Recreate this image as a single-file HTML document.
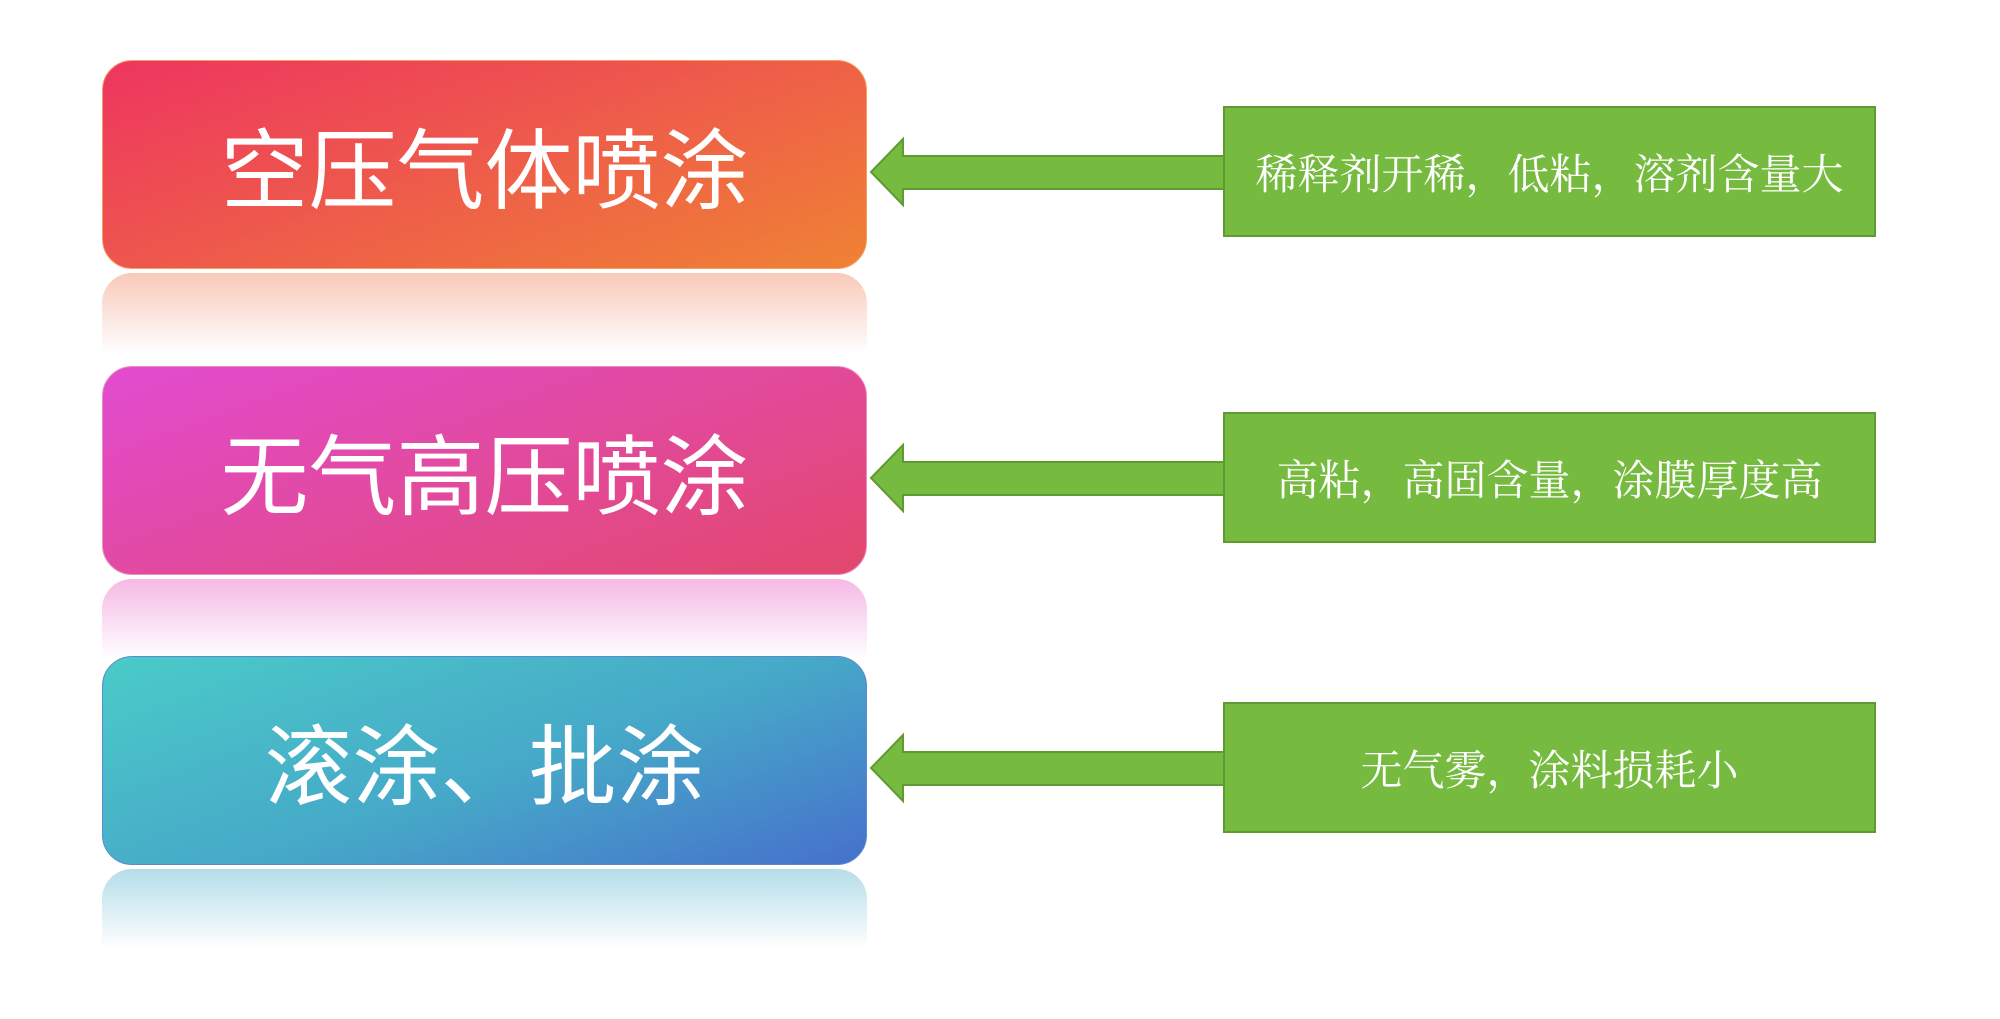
<!DOCTYPE html>
<html><head><meta charset="utf-8"><style>
html,body{margin:0;padding:0;background:#fff;}
body{width:2000px;height:1019px;position:relative;overflow:hidden;font-family:"Liberation Sans","Noto Sans CJK SC",sans-serif;}
.b{position:absolute;left:102px;width:765px;height:209px;border-radius:30px;color:#fff;font-size:88px;display:flex;align-items:center;justify-content:center;box-sizing:border-box;}
.r{position:absolute;left:102px;width:765px;height:80px;border-radius:30px 30px 0 0;}
.g{position:absolute;left:1223px;width:653px;height:131px;background:#76bb40;border:2px solid #5f9a33;box-sizing:border-box;color:#fff;font-size:42px;display:flex;align-items:center;justify-content:center;font-family:"Liberation Serif","Noto Serif CJK SC",serif;}
svg{position:absolute;left:0;top:0;}
</style></head><body>
<div class="b" style="top:60px;background:linear-gradient(160deg,#ee3560,#ef8234);border:1px solid #f3a060;">空压气体喷涂</div>
<div class="r" style="top:273px;background:linear-gradient(180deg,rgba(240,120,80,.4),rgba(255,255,255,0));"></div>
<div class="b" style="top:366px;background:linear-gradient(160deg,#e24bd0,#e2486b);border:1px solid #e890c0;">无气高压喷涂</div>
<div class="r" style="top:579px;background:linear-gradient(180deg,rgba(230,80,190,.4),rgba(255,255,255,0));"></div>
<div class="b" style="top:656px;background:linear-gradient(160deg,#4acbc8,#46a8c8 55%,#4670cc);border:1px solid #5a8ad0;">滚涂、批涂</div>
<div class="r" style="top:869px;background:linear-gradient(180deg,rgba(70,170,200,.4),rgba(255,255,255,0));"></div>
<svg width="2000" height="1019">
<g fill="#76bb40" stroke="#5f9a33" stroke-width="2">
<polygon points="871,172 903,139 903,156 1224,156 1224,189 903,189 903,205"/>
<polygon points="871,478 903,445 903,462 1224,462 1224,495 903,495 903,511"/>
<polygon points="871,768 903,735 903,752 1224,752 1224,785 903,785 903,801"/>
</g></svg>
<div class="g" style="top:106px;">稀释剂开稀，低粘，溶剂含量大</div>
<div class="g" style="top:412px;">高粘，高固含量，涂膜厚度高</div>
<div class="g" style="top:702px;">无气雾，涂料损耗小</div>
</body></html>
